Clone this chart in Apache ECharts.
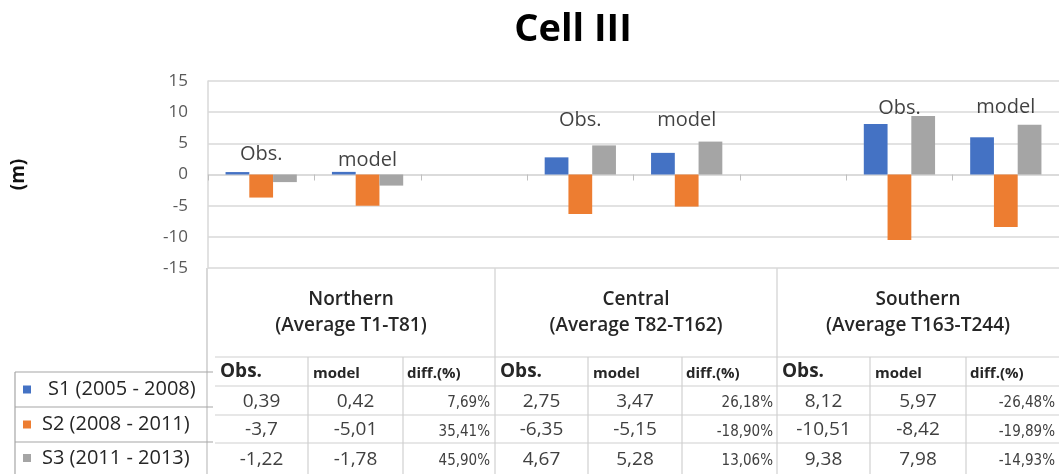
<!DOCTYPE html>
<html>
<head>
<meta charset="utf-8">
<script src="https://cdn.jsdelivr.net/npm/echarts@6/dist/echarts.min.js"></script>
<style>
  html, body { margin: 0; padding: 0; background: #fff; }
  #chart { width: 1059px; height: 474px; }
</style>
</head>
<body>
<div id="chart"></div>
<script>
// categories on the x axis (empty ones separate the regions)
const categories = ['Obs.', 'model', '', 'Obs.', 'model', '', 'Obs.', 'model'];
const seriesNames = ['S1 (2005 - 2008)', 'S2 (2008 - 2011)', 'S3 (2011 - 2013)'];
const regions = ['Northern', 'Central', 'Southern'];
const regionRanges = ['(Average T1-T81)', '(Average T82-T162)', '(Average T163-T244)'];
// per series, per region (Northern, Central, Southern)
const obsValues = [[0.39, 2.75, 8.12], [-3.7, -6.35, -10.51], [-1.22, 4.67, 9.38]];
const modelValues = [[0.42, 3.47, 5.97], [-5.01, -5.15, -8.42], [-1.78, 5.28, 7.98]];
const diffPct = [[7.69, 26.18, -26.48], [35.41, -18.90, -19.89], [45.90, 13.06, -14.93]];
const yMin = -15, yMax = 15, yStep = 5;
// height (m) where the "Obs." / "model" notes sit
const noteLevels = [1.6, 0.64, null, 7.05, 7.05, null, 9.0, 9.2];

const colors = ['#4472C4', '#ED7D31', '#A5A5A5'];
const FONT = "'Open Sans', 'Noto Sans', sans-serif";
const NARROW = "'Liberation Sans Narrow', 'DejaVu Sans Condensed', 'Liberation Sans', sans-serif";

function fmt(v) { return String(v).replace('.', ','); }
function fmtPct(v) { return v.toFixed(2).replace('.', ',') + '%'; }

const barSeries = seriesNames.map((name, s) => {
    const data = [];
    regions.forEach((r, i) => {
        data.push(obsValues[s][i], modelValues[s][i]);
        if (i < regions.length - 1) data.push(null);
    });
    return {
        name, type: 'bar', data,
        barGap: '0%', barCategoryGap: '33%',
        itemStyle: { color: colors[s] }
    };
});

const noteSeries = {
    type: 'scatter', symbolSize: 0, silent: true,
    data: categories.map((c, i) => noteLevels[i] == null ? null : { value: [i, noteLevels[i]], name: c }).filter(d => d),
    label: {
        show: true, formatter: p => p.name, position: [0, 0],
        align: 'center', verticalAlign: 'bottom',
        fontFamily: FONT, fontSize: 20, color: '#111'
    }
};

// ---- data table under the plot ----
const g = [];
const tLine = '#d0d0d0';
function line(x1, y1, x2, y2, c, w) {
    g.push({ type: 'line', shape: { x1, y1, x2, y2 }, style: { stroke: c || tLine, lineWidth: w || 1.2 }, silent: true });
}
function text(x, y, t, o) {
    g.push({ type: 'text', x, y, silent: true, style: Object.assign({ text: t, fontFamily: FONT, fontSize: 19, fill: '#404040', align: 'center', verticalAlign: 'middle' }, o) });
}
const regX = [[215, 308, 403, 494], [495, 588, 682, 777], [777, 870, 966, 1059]];
const rowY = [386, 415, 443, 474];
line(207, 268, 207, 474, '#bfbfbf');
line(495, 268, 495, 474);
line(777, 268, 777, 474);
line(215, 357, 1059, 357);
rowY.slice(0, 3).forEach(y => line(215, y, 1059, y));
regX.forEach(cols => { line(cols[1], 357, cols[1], 474); line(cols[2], 357, cols[2], 474); });
regions.forEach((r, i) => {
    const cx = (regX[i][0] === 215 ? 208 : regX[i][0]) / 2 + regX[i][3] / 2;
    text(cx, 300, r, { fontWeight: 600, fontSize: 19, fill: '#262626' });
    text(cx, 326, regionRanges[i], { fontWeight: 600, fontSize: 19, fill: '#262626' });
    const c = regX[i];
    text(c[0] + 5, 372, 'Obs.', { align: 'left', fontWeight: 'bold', fontSize: 19, fill: '#262626' });
    text(c[1] + 5, 374, 'model', { align: 'left', fontWeight: 'bold', fontSize: 15, fill: '#262626' });
    text(c[2] + 4, 374, 'diff.(%)', { align: 'left', fontWeight: 'bold', fontSize: 15, fill: '#262626' });
    seriesNames.forEach((n, s) => {
        const cy = (rowY[s] + rowY[s + 1]) / 2 + 1;
        text((c[0] + c[1]) / 2, cy, fmt(obsValues[s][i]));
        text((c[1] + c[2]) / 2, cy, fmt(modelValues[s][i]));
        text(c[3] - 4, cy + 2, fmtPct(diffPct[s][i]), { align: 'right', fontFamily: NARROW, fontSize: 15 });
    });
});
// legend box on the left of the table
const legRows = [372, 407, 442, 474];
const legLine = '#a6a6a6';
line(15, 372, 213, 372, legLine);
line(15, 407, 213, 407, legLine);
line(15, 442, 213, 442, legLine);
line(15, 372, 15, 474, legLine);
seriesNames.forEach((n, s) => {
    const cy = (legRows[s] + legRows[s + 1]) / 2;
    g.push({ type: 'rect', shape: { x: 23, y: cy - 4, width: 8, height: 8 }, style: { fill: colors[s] }, silent: true });
    text(s === 0 ? 48 : 42, cy, n, { align: 'left', fontSize: 20, fill: '#262626' });
});

const chart = echarts.init(document.getElementById('chart'));
chart.setOption({
    animation: false,
    title: {
        text: 'Cell III', left: 568, top: 6, textAlign: 'center',
        textStyle: { fontFamily: FONT, fontWeight: 'bold', fontSize: 38, color: '#000' }
    },
    grid: { left: 208, top: 81, width: 864, height: 187 },
    xAxis: {
        type: 'category', data: categories,
        axisLabel: { show: false },
        axisLine: { lineStyle: { color: '#d9d9d9', width: 1.5 } },
        axisTick: { show: true, length: 6, lineStyle: { color: '#bfbfbf' } }
    },
    yAxis: {
        type: 'value', min: yMin, max: yMax, interval: yStep,
        name: '(m)', nameLocation: 'middle', nameRotate: 90, nameGap: 180,
        nameTextStyle: { fontFamily: FONT, fontWeight: 'bold', fontSize: 19, color: '#111' },
        axisLine: { show: true, lineStyle: { color: '#d9d9d9', width: 1.5 } },
        axisLabel: { fontFamily: FONT, fontSize: 17, color: '#595959', margin: 20 },
        splitLine: { lineStyle: { color: '#d9d9d9', width: 1.5 } }
    },
    series: [...barSeries, noteSeries],
    graphic: g
});
</script>
</body>
</html>
